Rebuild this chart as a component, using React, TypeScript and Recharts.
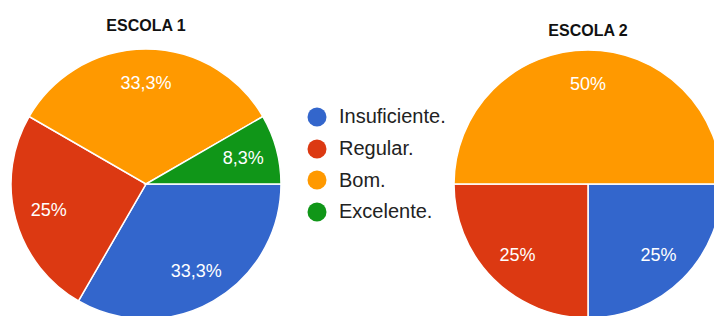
import { PieChart, Pie, Cell, Legend } from 'recharts';

// categories and response counts per school
const categories = ['Insuficiente.', 'Regular.', 'Bom.', 'Excelente.'];
const escola1 = [4, 3, 4, 1];
const escola2 = [1, 1, 2, 0];
const titles = ['ESCOLA 1', 'ESCOLA 2'];

// Google-ish palette
const COLORS = ['#3366cc', '#dc3912', '#ff9900', '#109618'];

const RAD = Math.PI / 180;
const FONT = '"Liberation Sans", Arial, sans-serif';

const toRows = (vals: number[]) => categories.map((name, i) => ({ name, value: vals[i] }));

const fmtPct = (p: number) => {
  const s = (p * 100).toFixed(1).replace(/\.0$/, '');
  return s.replace('.', ',') + '%';
};

function sliceLabel(props: any) {
  const { cx, cy, midAngle, outerRadius, percent, value } = props;
  if (!value) return null;
  const r = outerRadius * 0.745;
  const x = cx + r * Math.cos(-midAngle * RAD);
  const y = cy + r * Math.sin(-midAngle * RAD);
  return (
    <text x={x} y={y} fill="#fff" fontSize={18} fontFamily={FONT} textAnchor="middle" dominantBaseline="central">
      {fmtPct(percent)}
    </text>
  );
}

function LegendBox() {
  return (
    <div style={{ fontFamily: FONT }}>
      {categories.map((c, i) => (
        <div key={c} style={{ display: 'flex', alignItems: 'center', height: 31.7 }}>
          <svg width={20} height={20} style={{ marginRight: 12 }}>
            <circle cx={10} cy={10} r={9.5} fill={COLORS[i]} />
          </svg>
          <span style={{ fontSize: 20, color: '#222' }}>{c}</span>
        </div>
      ))}
    </div>
  );
}

export default function App() {
  return (
    <div style={{ position: 'absolute', left: 0, top: 0, background: '#fff' }}>
      <PieChart width={714} height={316} margin={{ top: 0, right: 0, bottom: 0, left: 0 }}>
        <text x={146} y={25} textAnchor="middle" dominantBaseline="central" fontSize={16} fontWeight="bold" fontFamily={FONT} fill="#111">
          {titles[0]}
        </text>
        <text x={588} y={30} textAnchor="middle" dominantBaseline="central" fontSize={16} fontWeight="bold" fontFamily={FONT} fill="#111">
          {titles[1]}
        </text>
        <Pie
          data={toRows(escola1)}
          dataKey="value"
          nameKey="name"
          cx={146}
          cy={184}
          outerRadius={135}
          startAngle={0}
          endAngle={-360}
          stroke="#fff"
          strokeWidth={1.5}
          labelLine={false}
          label={sliceLabel}
          isAnimationActive={false}
        >
          {escola1.map((_, i) => (
            <Cell key={i} fill={COLORS[i]} />
          ))}
        </Pie>
        <Pie
          data={toRows(escola2)}
          dataKey="value"
          nameKey="name"
          cx={588}
          cy={184}
          outerRadius={134}
          startAngle={0}
          endAngle={-360}
          stroke="#fff"
          strokeWidth={1.5}
          labelLine={false}
          label={sliceLabel}
          isAnimationActive={false}
        >
          {escola2.map((_, i) => (
            <Cell key={i} fill={COLORS[i]} />
          ))}
        </Pie>
        <Legend
          layout="vertical"
          content={() => <LegendBox />}
          wrapperStyle={{ left: 307, top: 101, width: 160 }}
        />
      </PieChart>
    </div>
  );
}
